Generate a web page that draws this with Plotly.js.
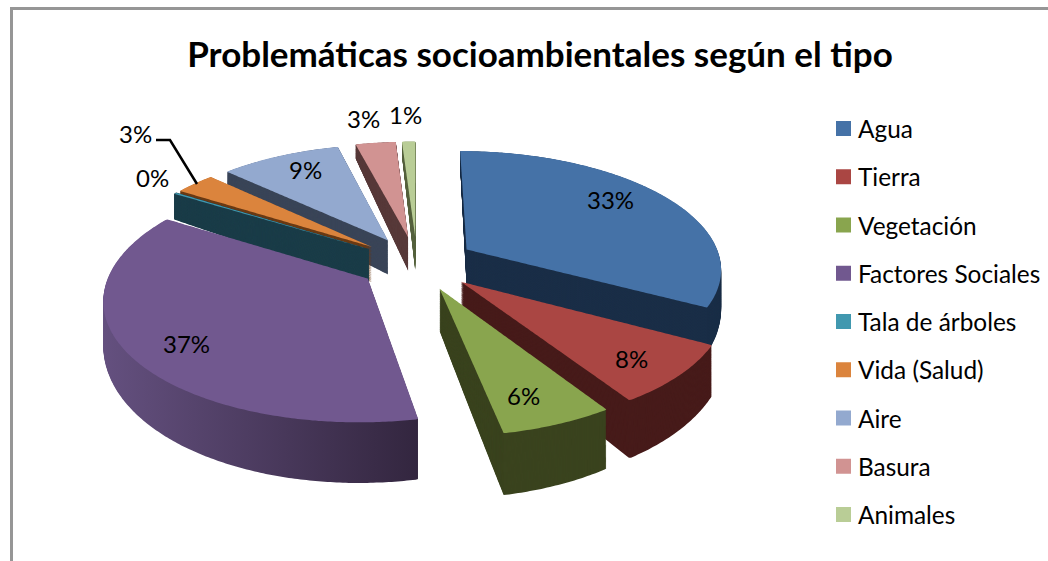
<!DOCTYPE html>
<html><head><meta charset="utf-8">
<script src="https://cdn.plot.ly/plotly-3.0.1.min.js"></script>
<style>html,body{margin:0;padding:0;background:#fff}#c{width:1048px;height:561px}</style>
</head><body><div id="c"></div>
<script>
const categories = ["Agua","Tierra","Vegetación","Factores Sociales","Tala de árboles","Vida (Salud)","Aire","Basura","Animales"];
const values = [33,8,6,37,0.2,3,9,3,1];
const percentLabels = ["33%","8%","6%","37%","0%","3%","9%","3%","1%"];
const topColors = ["#4572A7","#AA4643","#89A54E","#71588F","#4198AF","#DB843D","#93A9CF","#D19392","#B9CD96"];
const wallColors = ["#1a2e47","#471b1a","#3a431e","#3f3050","#1a3c48","#6a3a14","#3a4558","#583a3a","#56633f"];
const labelPositions = [[610,199],[631,358],[523,395],[186,343],[152,178],[135,133],[305,170],[363,118],[405,114]];

const W=1048,H=561,FONT='Lato, Carlito, sans-serif';
const px=x=>x/W, py=y=>1-y/H;
const pull=0.23, half=246, srcX=414, srcY=280, R=half/(1+pull);
// tilt of the disc: perspective view of the flat pie
const cx=417, cy=263, rx=255, ry=117, k=0.15, depth0=38, depth1=20, layers=60;
const domain={x:[px(srcX-half),px(srcX+half)],y:[py(srcY+half),py(srcY-half)]};

const pieBase={type:'pie',labels:categories,values:values,sort:false,direction:'clockwise',rotation:0,
  pull:values.map(()=>pull),domain:domain,textinfo:'none',hoverinfo:'skip'};
const traces=[],fractions=[];
for(let n=layers;n>0;n--){
  traces.push(Object.assign({},pieBase,{showlegend:false,marker:{colors:wallColors,line:{width:0}}}));
  fractions.push(n/layers);
}
traces.push(Object.assign({},pieBase,{showlegend:true,marker:{colors:topColors,line:{width:0}}}));
fractions.push(0);

const layout={width:W,height:H,margin:{l:0,r:0,t:0,b:0},paper_bgcolor:'#fff',plot_bgcolor:'#fff',
  font:{family:FONT,color:'#000',size:24},
  title:{text:'Problemáticas socioambientales según el tipo',font:{family:FONT,size:35,color:'#000',weight:700},
    x:540/W,xanchor:'center',y:py(55),yanchor:'middle'},
  legend:{x:px(818),xanchor:'left',y:py(106),yanchor:'top',font:{family:FONT,size:24.4,color:'#000'},
    bgcolor:'rgba(0,0,0,0)',borderwidth:0,traceorder:'normal'},
  shapes:[
    {type:'path',xref:'paper',yref:'paper',path:`M${px(11.5)},${py(561)} L${px(11.5)},${py(8.5)} L${px(1048)},${py(8.5)}`,line:{color:'#969696',width:3}},
    {type:'path',xref:'paper',yref:'paper',path:`M${px(156)},${py(140)} L${px(170)},${py(140)} L${px(197)},${py(184)}`,line:{color:'#000',width:2.5}}
  ],
  annotations:percentLabels.map((t,i)=>({text:t,xref:'paper',yref:'paper',x:px(labelPositions[i][0]),y:py(labelPositions[i][1]),
    xanchor:'center',yanchor:'middle',showarrow:false,font:{family:FONT,size:24,color:'#000'}}))
};

const gd=document.getElementById('c');
Plotly.newPlot(gd,traces,layout,{displayModeBar:false,staticPlot:true}).then(()=>{
  const svg=gd.querySelector('svg.main-svg');
  const ns='http://www.w3.org/2000/svg';
  const defs=svg.querySelector('defs');
  const g=document.createElementNS(ns,'linearGradient');g.id='factWall';
  [[0,'#64507f'],[1,'#33263f']].forEach(([o,c])=>{const s=document.createElementNS(ns,'stop');s.setAttribute('offset',o);s.setAttribute('stop-color',c);g.appendChild(s);});
  defs.appendChild(g);
  // warp what the pie trace drew into the perspective of the tilted, extruded disc
  const layersEls=[...gd.querySelectorAll('.pielayer .trace')];
  const outlines=[...layersEls[layersEls.length-1].querySelectorAll('.slice path.surface')].map(p=>{
    const L=p.getTotalLength(),pts=[];
    const n=Math.ceil(L/2);
    for(let i=0;i<=n;i++){const q=p.getPointAtLength(L*i/n);
      const u=(q.x-srcX)/R,v=(q.y-srcY)/R,w=1/(1-k*v);
      pts.push([cx+rx*u*w,cy+ry*v*w,depth0+depth1*v]);}
    return pts;
  });
  layersEls.forEach((tr,i)=>{
    const t=fractions[i];
    const paths=[...tr.querySelectorAll('.slice path.surface')];
    paths.forEach((p,j)=>{
      p.setAttribute('d','M'+outlines[j].map(q=>q[0].toFixed(1)+','+(q[1]+t*q[2]).toFixed(1)).join('L')+'Z');
      if(t>0&&j===3) p.style.fill='url(#factWall)';
    });
    if(t>0){ // the nearly empty slice keeps a solid cut face, in front of its neighbour
      const tala=paths[4];
      tala.style.stroke=wallColors[4];tala.style.strokeWidth='1.4px';tala.style.strokeOpacity=1;
      tala.parentNode.parentNode.appendChild(tala.parentNode);
    }
  });
  // legend rows: wider spacing, larger swatches
  const items=gd.querySelectorAll('.legend .traces');
  const sb=gd.querySelector('.legend .scrollbox');
  if(sb) sb.removeAttribute('clip-path');
  const lg=gd.querySelector('.legend');
  const ly=+(lg.getAttribute('transform').match(/,\s*([-\d.]+)/)||[0,0])[1];
  items.forEach((it,i)=>{
    it.setAttribute('transform',`translate(0,${128.5+48.25*i-ly})`);
    it.querySelectorAll('.legendpoints path').forEach(p=>{p.setAttribute('transform','translate(25.5,0) scale(1.25)');});
  });
});
</script></body></html>
